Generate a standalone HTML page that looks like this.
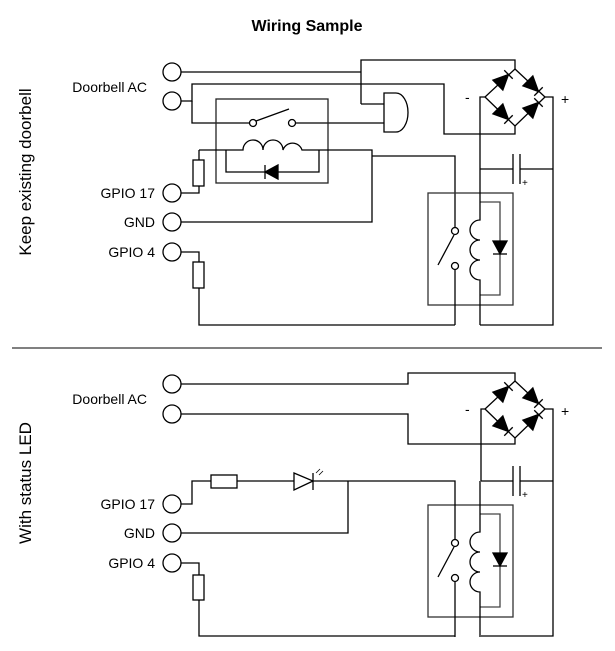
<!DOCTYPE html>
<html><head><meta charset="utf-8"><style>
html,body{margin:0;padding:0;background:#fff;}
svg{display:block;}
text{font-family:"Liberation Sans",sans-serif;fill:#000;}
</style></head><body>
<svg width="615" height="651" viewBox="0 0 615 651" xmlns="http://www.w3.org/2000/svg">
<defs>
<g id="d"><polygon points="-7,-7 -7,7 6,0" fill="#000"/><line x1="6" y1="-7" x2="6" y2="7" stroke="#000" stroke-width="1.3"/></g>
<g id="bd"><polygon points="-3,-7 -3,7 12,0" fill="#000"/><line x1="12" y1="-6" x2="12" y2="6" stroke="#000" stroke-width="1.3"/></g>
<g id="bridge" fill="none" stroke="#000" stroke-width="1.3">
<polygon points="515,69 545,97 515,126 485,97"/>
<use href="#bd" transform="translate(500,83) rotate(-45)"/>
<use href="#bd" transform="translate(530,83) rotate(45)"/>
<use href="#bd" transform="translate(500,111) rotate(45)"/>
<use href="#bd" transform="translate(530,111) rotate(-45)"/>
</g>
<g id="relay2" fill="none" stroke="#000" stroke-width="1.3">
<rect x="428" y="193" width="85" height="112" stroke="#333"/>
<polyline points="480,202 500,202 500,295 480,295" stroke="#444"/>
<path d="M480,169 V220 a10,10 0 0 0 0,20 a10,10 0 0 0 0,20 a10,10 0 0 0 0,20 V325"/>
<circle cx="455" cy="231" r="3.5" fill="#fff"/>
<circle cx="455" cy="266" r="3.5" fill="#fff"/>
<line x1="438" y1="265" x2="454" y2="235"/>
<line x1="455" y1="269.5" x2="455" y2="325"/>
<use href="#d" transform="translate(500,248) rotate(90)"/>
</g>
</defs>

<text x="307" y="31" font-size="16" font-weight="bold" text-anchor="middle">Wiring Sample</text>
<text transform="translate(31,172) rotate(-90)" font-size="17" text-anchor="middle">Keep existing doorbell</text>
<text transform="translate(31,483) rotate(-90)" font-size="17" text-anchor="middle">With status LED</text>

<g font-size="14" text-anchor="end">
<text x="147" y="92">Doorbell AC</text>
<text x="155" y="198">GPIO 17</text>
<text x="155" y="227">GND</text>
<text x="155" y="257">GPIO 4</text>
<text x="147" y="404">Doorbell AC</text>
<text x="155" y="509">GPIO 17</text>
<text x="155" y="538">GND</text>
<text x="155" y="568">GPIO 4</text>
</g>
<g font-size="14">
<text x="465" y="102">-</text><text x="561" y="104">+</text>
<text x="465" y="414">-</text><text x="561" y="416">+</text>
</g>
<g font-size="10"><text x="522" y="186">+</text><text x="522" y="498">+</text></g>

<line x1="12" y1="348" x2="602" y2="348" stroke="#000" stroke-width="1"/>

<g fill="none" stroke="#000" stroke-width="1.3">
<circle cx="172" cy="72" r="9"/><circle cx="172" cy="101" r="9"/>
<circle cx="172" cy="193" r="9"/><circle cx="172" cy="222" r="9"/><circle cx="172" cy="252" r="9"/>
<polyline points="181,72 361,72"/>
<polyline points="361,104 361,60 515,60 515,69"/>
<polyline points="361,104 384,104"/>
<path d="M384,93 H396 a12,19.5 0 0 1 0,39 H384 Z"/>
<polyline points="181,101 192,101 192,84 444,84 444,134 515,134 515,126"/>
<polyline points="192,101 192,123 249,123"/>
<circle cx="253" cy="123" r="3.5"/><circle cx="292" cy="123" r="3.5"/>
<line x1="256" y1="121" x2="289" y2="109"/>
<polyline points="296,123 384,123"/>
<rect x="216" y="99" width="112" height="84" stroke="#222"/>
<path d="M199,150 H243 a10,10 0 0 1 20,0 a10,10 0 0 1 20,0 a10,10 0 0 1 19,0 H372 V222 H181"/>
<polyline points="226,150 226,172 319,172 319,150"/>
<use href="#d" transform="translate(271,172) rotate(180)"/>
<polyline points="372,156 455,156 455,227"/>
<polyline points="181,193 199,193 199,186"/>
<rect x="193" y="160" width="11" height="26"/>
<line x1="199" y1="160" x2="199" y2="150"/>
<polyline points="181,252 199,252 199,262"/>
<rect x="193" y="262" width="11" height="26"/>
<polyline points="199,288 199,325 455,325"/>
<use href="#bridge"/>
<polyline points="485,97 480,97 480,169"/>
<polyline points="545,97 553,97 553,325 480,325"/>
<polyline points="480,169 513,169"/><polyline points="520,169 553,169"/>
<line x1="513" y1="154" x2="513" y2="184"/><line x1="520" y1="154" x2="520" y2="184"/>
<use href="#relay2"/>

<circle cx="172" cy="384" r="9"/><circle cx="172" cy="414" r="9"/>
<circle cx="172" cy="504" r="9"/><circle cx="172" cy="533" r="9"/><circle cx="172" cy="563" r="9"/>
<polyline points="181,384 408,384 408,373 515,373 515,381"/>
<polyline points="181,414 408,414 408,444 515,444 515,438"/>
<g transform="translate(0,312)">
<use href="#bridge"/>
<polyline points="485,97 481,97 481,169"/>
<polyline points="545,97 553,97 553,324 481,324"/>
<polyline points="481,169 513,169"/><polyline points="520,169 553,169"/>
<line x1="513" y1="154" x2="513" y2="184"/><line x1="520" y1="154" x2="520" y2="184"/>
<use href="#relay2"/>
</g>
<polyline points="181,504 192,504 192,481 211,481"/>
<rect x="211" y="475" width="26" height="13"/>
<polyline points="237,481 294,481"/>
<polygon points="294,473 294,490 313,481"/>
<line x1="313" y1="473" x2="313" y2="490"/>
<polyline points="313,481 455,481 455,539"/>
<polyline points="181,533 348,533 348,481"/>
<line x1="316" y1="473" x2="320" y2="469" stroke-width="0.8"/>
<line x1="319" y1="475" x2="323" y2="471" stroke-width="0.8"/>
<polyline points="181,563 199,563 199,575"/>
<rect x="193" y="575" width="11" height="25"/>
<polyline points="199,600 199,636 455,636"/>
</g>
</svg>
</body></html>
